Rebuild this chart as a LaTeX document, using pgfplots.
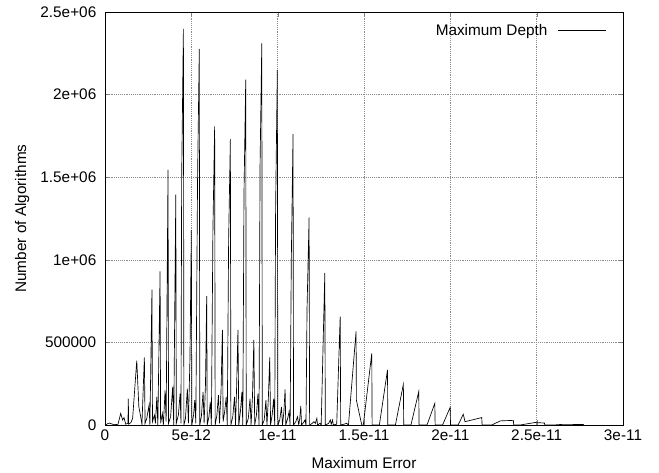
\documentclass[border=0pt]{standalone}
\usepackage{fontspec}
\setmainfont{Liberation Sans}
\usepackage{pgfplots}
\pgfplotsset{compat=1.18}

% x in units of 1e-12, y in raw counts
\begin{document}
\begin{tikzpicture}
\path[use as bounding box] (-78.75pt,-36pt) rectangle (415.5pt,318.75pt);
\begin{axis}[
  at={(0pt,0pt)}, anchor=south west,
  scale only axis,
  width=388.5pt, height=309.75pt,
  xmin=0, xmax=30, ymin=0, ymax=2500000,
  xtick={0,5,10,15,20,25,30},
  xticklabels={0,5e-12,1e-11,1.5e-11,2e-11,2.5e-11,3e-11},
  ytick={0,500000,1000000,1500000,2000000,2500000},
  yticklabels={0,500000,1e+06,1.5e+06,2e+06,2.5e+06},
  scaled ticks=false,
  tick align=inside,
  major tick length=3.75pt,
  grid=major,
  grid style={densely dotted, black!45},
  axis line style={black, line width=0.6pt},
  font=\fontsize{11.5}{13}\selectfont,
  yticklabel style={xshift=-3pt},
  xlabel={Maximum Error},
  ylabel={Number of Algorithms},
  xlabel style={at={(axis description cs:0.5,0)}, anchor=center, yshift=-28.5pt},
  ylabel style={at={(axis description cs:-0.16,0.5)}, anchor=center, rotate=0},
  legend plot pos=right,
  legend style={at={(rel axis cs:1,1)}, anchor=north east, xshift=-9pt, yshift=-5pt,
                draw=none, fill=none, font=\fontsize{11.5}{13}\selectfont},
  legend image code/.code={\path (0pt,0pt); \draw[#1] (6pt,0pt) -- (42pt,0pt);},
]
\addplot[black, line width=0.5pt, mark=none] coordinates {
(0.00,0) (0.10,5000) (0.25,12000) (0.40,6000) (0.55,2000) (0.75,4000)
(0.91,70000) (1.02,30000) (1.10,45000) (1.20,5000) (1.33,10000) (1.35,160000)
(1.37,5000) (1.50,15000) (1.60,40000) (1.84,390000) (1.96,110000) (2.05,60000)
(2.14,5000) (2.28,410000) (2.32,10000) (2.42,40000) (2.55,120000) (2.60,0)
(2.72,820000) (2.75,20000) (2.86,60000) (2.92,10000) (3.00,170000) (3.06,0)
(3.19,930000) (3.22,10000) (3.32,70000) (3.38,0) (3.48,210000) (3.54,20000)
(3.65,1545000) (3.68,10000) (3.80,50000) (3.92,230000) (3.98,0)
(4.10,1394000) (4.13,10000) (4.25,60000) (4.35,190000) (4.40,10000)
(4.44,1500000) (4.54,2398000) (4.57,0)
(4.66,40000) (4.77,220000) (4.83,10000) (4.92,400000) (5.00,1180000) (5.03,0)
(5.13,60000) (5.20,150000) (5.26,10000) (5.36,1480000) (5.46,2277000) (5.49,0)
(5.58,50000) (5.68,200000) (5.74,10000) (5.82,250000) (5.89,780000) (5.92,0)
(6.02,50000) (6.10,140000) (6.16,0) (6.25,1180000) (6.35,1808000) (6.38,0)
(6.48,60000) (6.57,180000) (6.63,10000) (6.72,200000) (6.80,576000) (6.84,20000)
(6.93,80000) (7.02,170000) (7.08,0) (7.16,1120000) (7.26,1730000) (7.29,0)
(7.40,50000) (7.50,170000) (7.56,0) (7.62,220000) (7.70,576000) (7.75,0)
(7.85,90000) (7.93,200000) (7.98,0) (8.05,1400000) (8.15,2090000) (8.18,0)
(8.30,40000) (8.40,160000) (8.46,0) (8.54,170000) (8.62,515000) (8.67,0)
(8.77,60000) (8.86,190000) (8.92,0) (8.98,1570000) (9.08,2310000) (9.11,0)
(9.22,30000) (9.32,150000) (9.38,0) (9.46,160000) (9.54,410000) (9.59,0)
(9.68,60000) (9.77,160000) (9.83,0) (9.88,1300000) (9.98,2150000) (10.01,0)
(10.12,30000) (10.22,110000) (10.28,0) (10.36,80000) (10.43,216000) (10.47,0)
(10.58,40000) (10.66,80000) (10.72,0) (10.79,1000000) (10.89,1760000) (10.92,0)
(11.05,20000) (11.15,50000) (11.22,0) (11.28,40000) (11.34,115000) (11.38,0)
(11.50,15000) (11.58,30000) (11.64,0) (11.70,700000) (11.82,1256000) (11.85,0)
(12.00,10000) (12.10,20000) (12.18,10000) (12.27,40000) (12.31,0)
(12.45,10000) (12.52,0) (12.73,919000) (12.76,0)
(12.95,10000) (13.05,30000) (13.10,5000) (13.18,30000) (13.22,0)
(13.42,5000) (13.62,656000) (13.65,0)
(13.85,5000) (14.00,10000) (14.10,0) (14.54,566000) (14.56,150000) (14.87,0)
(14.96,0) (15.45,434000) (15.47,0)
(15.89,0) (16.36,333000) (16.38,0)
(16.82,0) (17.28,247000) (17.30,0)
(17.72,0) (18.17,202000) (18.19,0)
(18.65,0) (19.10,131000) (19.12,0)
(19.55,0) (19.99,107000) (20.01,0)
(20.45,0) (20.75,65000) (20.85,20000) (21.82,45000) (21.84,0)
(22.40,0) (22.90,25000) (23.65,28000) (23.67,0)
(24.05,0) (24.90,15000) (25.45,12000) (25.47,0)
(26.00,0) (26.50,4000) (27.70,3000) (27.72,0)
};
\addlegendentry{Maximum Depth}
\end{axis}
\end{tikzpicture}
\end{document}
